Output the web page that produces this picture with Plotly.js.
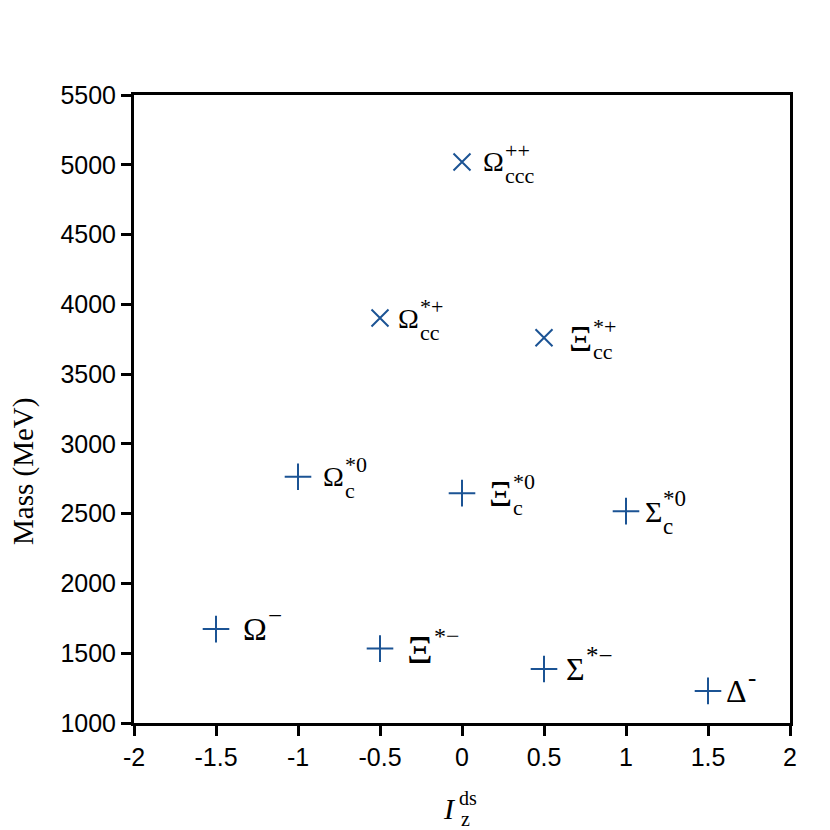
<!DOCTYPE html>
<html>
<head>
<meta charset="utf-8">
<script src="https://cdn.plot.ly/plotly-3.0.1.min.js"></script>
<style>html,body{margin:0;padding:0;background:#fff;}#chart{width:830px;height:830px;}</style>
</head>
<body>
<div id="chart"></div>
<script>
// Baryon masses vs I_z^{ds}
// "x" markers (triply/doubly charmed)
const tripleBase = ["Ω", "Ω", "Ξ"];
const tripleSub = ["ccc", "cc", "cc"];
const tripleSup = ["++", "*+", "*+"];
const tripleIz = [0, -0.5, 0.5];
const tripleMass = [5020, 3902, 3760];

// "+" markers
const plusBase = ["Ω", "Ξ", "Σ", "Ω", "Ξ", "Σ", "Δ"];
const plusSub = ["c", "c", "c", "", "", "", ""];
const plusSup = ["*0", "*0", "*0", "−", "*−", "*−", "-"];
const plusIz = [-1, 0, 1, -1.5, -0.5, 0.5, 1.5];
const plusMass = [2765, 2647, 2518, 1673, 1533, 1387, 1230];

const xTickVals = [-2, -1.5, -1, -0.5, 0, 0.5, 1, 1.5, 2];
const xTickText = ["-2", "-1.5", "-1", "-0.5", "0", "0.5", "1", "1.5", "2"];
const yTickVals = [1000, 1500, 2000, 2500, 3000, 3500, 4000, 4500, 5000, 5500];
const yTickText = ["1000", "1500", "2000", "2500", "3000", "3500", "4000", "4500", "5000", "5500"];

// ---- styling ----
const markerColor = "#1b5394";
const serif = "Liberation Serif, Times New Roman, serif";
const tripleShift = [20, 17, 24];
const plusShift = [24, 26, 18, 26, 26, 21, 17];
const tripleSize = [28, 28, 28];
const plusSize = [28, 28, 30, 32, 31, 32, 32];

const ctx = document.createElement("canvas").getContext("2d");
function textWidth(t, size) {
  ctx.font = size + "px 'Liberation Serif'";
  return ctx.measureText(t).width;
}

const annotations = [];
function addLabel(x, y, base, sub, sup, shift, size) {
  const small = Math.round(size * 0.78);
  const baseSize = base === "Ξ" ? Math.round(size * 1.3) : size;
  annotations.push({x: x, y: y, text: base, showarrow: false, xanchor: "left", yanchor: "middle",
    xshift: shift, yshift: base === "Ξ" ? -1 : 0, borderpad: 0, font: {family: serif, size: baseSize, color: "#000"}});
  const w = textWidth(base, baseSize) + 1;
  if (sub) annotations.push({x: x, y: y, text: sub, showarrow: false, xanchor: "left", yanchor: "middle",
    xshift: shift + w, yshift: -0.5 * size, borderpad: 0, font: {family: serif, size: small, color: "#000"}});
  if (sup) annotations.push({x: x, y: y, text: sup, showarrow: false, xanchor: "left", yanchor: "middle",
    xshift: shift + w, yshift: 0.42 * size, borderpad: 0, font: {family: serif, size: small, color: "#000"}});
}
tripleBase.forEach((b, i) => addLabel(tripleIz[i], tripleMass[i], b, tripleSub[i], tripleSup[i], tripleShift[i], tripleSize[i]));
plusBase.forEach((b, i) => addLabel(plusIz[i], plusMass[i], b, plusSub[i], plusSup[i], plusShift[i], plusSize[i]));

// axis titles as annotations
annotations.push({xref: "x", yref: "paper", x: 0, y: 0, text: "<i>I</i>", showarrow: false,
  xanchor: "center", yanchor: "middle", xshift: -13, yshift: -85, font: {family: serif, size: 30, color: "#000"}});
annotations.push({xref: "x", yref: "paper", x: 0, y: 0, text: "ds", showarrow: false,
  xanchor: "left", yanchor: "middle", xshift: -5, yshift: -75, font: {family: serif, size: 20, color: "#000"}});
annotations.push({xref: "x", yref: "paper", x: 0, y: 0, text: "z", showarrow: false,
  xanchor: "left", yanchor: "middle", xshift: -3, yshift: -96, font: {family: serif, size: 20, color: "#000"}});
annotations.push({xref: "paper", yref: "paper", x: 0, y: 0.5, text: "Mass (MeV)", showarrow: false,
  textangle: -90, xanchor: "center", yanchor: "middle", xshift: -111, yshift: -63,
  font: {family: serif, size: 29, color: "#000"}});

const traces = [
  {x: tripleIz, y: tripleMass, mode: "markers", type: "scatter",
   marker: {symbol: "x-thin", size: 17, line: {color: markerColor, width: 2}}, hoverinfo: "skip"},
  {x: plusIz, y: plusMass, mode: "markers", type: "scatter",
   marker: {symbol: "cross-thin", size: 19, line: {color: markerColor, width: 2}}, hoverinfo: "skip"}
];

const axisCommon = {showline: true, linewidth: 3, linecolor: "#000", mirror: true, ticks: "outside",
  ticklen: 10, tickwidth: 3, tickcolor: "#000", showgrid: false, zeroline: false,
  tickfont: {family: "Liberation Sans, Arial, sans-serif", size: 25, color: "#000"}};

const layout = {
  width: 830, height: 830,
  margin: {l: 134, r: 40, t: 95, b: 107},
  paper_bgcolor: "#fff", plot_bgcolor: "#fff",
  showlegend: false,
  xaxis: Object.assign({}, axisCommon, {range: [-2, 2], tickvals: xTickVals, ticktext: xTickText}),
  yaxis: Object.assign({}, axisCommon, {range: [1000, 5500], tickvals: yTickVals, ticktext: yTickText}),
  annotations: annotations
};

Plotly.newPlot("chart", traces, layout, {displayModeBar: false, staticPlot: true});
</script>
</body>
</html>
